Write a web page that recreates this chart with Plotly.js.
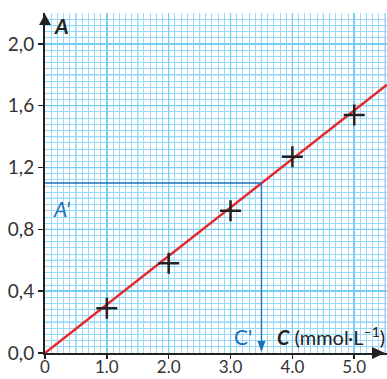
<!DOCTYPE html>
<html>
<head>
<meta charset="utf-8">
<script src="https://cdn.plot.ly/plotly-3.0.1.min.js"></script>
<style>html,body{margin:0;padding:0;background:#fff;}#chart{width:387px;height:379px;}</style>
</head>
<body>
<div id="chart"></div>
<script>
// Measured points (concentration C in mmol/L, absorbance A)
var concentrations = [1.0, 2.0, 3.0, 4.0, 5.0];
var absorbances = [0.29, 0.58, 0.92, 1.27, 1.54];
// Calibration line
var lineX = [0, 5.53];
var lineY = [0, 1.736];
// Reading of the unknown sample
var readA = 1.10;
var readC = 3.5;
// Tick labels
var xTickVals = [0, 1, 2, 3, 4, 5];
var xTickText = ['0', '1.0', '2.0', '3.0', '4.0', '5.0'];
var yTickVals = [0, 0.4, 0.8, 1.2, 1.6, 2.0];
var yTickText = ['0,0', '0,4', '0,8', '1,2', '1,6', '2,0'];

var XMAX = 5.53, YMAX = 2.2;
var blue = '#1d71b8', red = '#e8262a', ink = '#222222', txt = '#333333';
var gridMinor = '#97d9f8', gridMid = '#78cdf5';

var M = {l: 45, r: 0, t: 13, b: 26};
var W = 387 - M.l - M.r, H = 379 - M.t - M.b;
// pixel offsets relative to a data point -> paper coords
function px(xd, yd, dx, dy) {
  return ((xd / XMAX) + dx / W).toFixed(5) + ',' + ((yd / YMAX) - dy / H).toFixed(5);
}

var traces = [
  {x: lineX, y: lineY, mode: 'lines', line: {color: red, width: 2.5}, hoverinfo: 'skip'},
  {x: concentrations, y: absorbances, mode: 'markers',
   marker: {symbol: 'cross-thin', size: 15, line: {color: ink, width: 2.5}}, cliponaxis: false}
];

var shapes = [];
// medium grid lines (every 0.5 in x, every 0.2 in y)
for (var i = 1; i * 0.5 < XMAX; i++) {
  shapes.push({type: 'line', layer: 'below', x0: i * 0.5, x1: i * 0.5, y0: 0, y1: YMAX, line: {color: gridMid, width: 1.2}});
}
for (var j = 1; j * 0.2 < YMAX; j++) {
  shapes.push({type: 'line', layer: 'below', x0: 0, x1: XMAX, y0: j * 0.2, y1: j * 0.2, line: {color: gridMid, width: 1.2}});
}
// reading lines
shapes.push({type: 'line', x0: 0, x1: readC, y0: readA, y1: readA, line: {color: blue, width: 1.3}});
shapes.push({type: 'line', x0: readC, x1: readC, y0: readA, y1: 0.03, line: {color: blue, width: 1.3}});
// arrowheads (paper coords, offsets in pixels; dy positive = downward)
shapes.push({type: 'path', xref: 'paper', yref: 'paper',
  path: 'M' + px(readC, 0, 0, -1) + ' L' + px(readC, 0, -4, -12) + ' L' + px(readC, 0, 4, -12) + ' Z',
  fillcolor: blue, line: {width: 0}});
shapes.push({type: 'path', xref: 'paper', yref: 'paper',
  path: 'M' + px(0, YMAX, 0, 1) + ' L' + px(0, YMAX, -6, 12) + ' L' + px(0, YMAX, 6, 12) + ' Z',
  fillcolor: ink, line: {width: 0}});
shapes.push({type: 'path', xref: 'paper', yref: 'paper',
  path: 'M' + px(XMAX, 0, -2, 0) + ' L' + px(XMAX, 0, -15, -6) + ' L' + px(XMAX, 0, -15, 6) + ' Z',
  fillcolor: ink, line: {width: 0}});

var annotations = [
  {x: 0, y: 1, xref: 'x', yref: 'paper', xanchor: 'left', yanchor: 'middle', xshift: 7, yshift: -12, showarrow: false,
   text: '<b><i>A</i></b>', font: {family: 'Lato', size: 21, color: ink}},
  {x: 0, y: readA, xref: 'x', yref: 'y', xanchor: 'left', yanchor: 'middle', xshift: 6, yshift: -25, showarrow: false,
   text: "<i>A'</i>", font: {family: 'Lato', size: 21, color: blue}},
  {x: readC, y: 0, xref: 'x', yref: 'y', xanchor: 'right', yanchor: 'middle', xshift: -7, yshift: 17, showarrow: false,
   text: "C'", font: {family: 'Lato', size: 21, color: blue}},
  {x: 1, y: 0, xref: 'paper', yref: 'y', xanchor: 'right', yanchor: 'middle', xshift: 0, yshift: 17, showarrow: false,
   text: '<b><i>C</i></b> (mmol·L<sup>–1</sup>)', font: {family: 'Lato', size: 20, color: ink}}
];

var layout = {
  width: 387, height: 379,
  margin: {l: M.l, r: M.r, t: M.t, b: M.b, pad: 0},
  paper_bgcolor: '#ffffff', plot_bgcolor: '#ffffff',
  showlegend: false,
  xaxis: {
    range: [0, XMAX], fixedrange: true,
    tickmode: 'array', tickvals: xTickVals, ticktext: xTickText,
    ticks: 'outside', ticklen: 4, tickwidth: 1.5, tickcolor: ink, ticklabelstandoff: -6,
    tickfont: {family: 'Lato', size: 17, color: txt},
    showgrid: true, gridcolor: gridMid, gridwidth: 1.5,
    minor: {tickmode: 'linear', tick0: 0, dtick: 0.1, showgrid: true, gridcolor: gridMinor, gridwidth: 1, ticks: ''},
    showline: true, linecolor: ink, linewidth: 2, zeroline: false
  },
  yaxis: {
    range: [0, YMAX], fixedrange: true,
    tickmode: 'array', tickvals: yTickVals, ticktext: yTickText,
    ticks: 'outside', ticklen: 5, tickwidth: 1.5, tickcolor: ink,
    tickfont: {family: 'Lato', size: 19, color: txt},
    showgrid: true, gridcolor: gridMid, gridwidth: 1.5,
    minor: {tickmode: 'linear', tick0: 0, dtick: 0.04, showgrid: true, gridcolor: gridMinor, gridwidth: 1, ticks: ''},
    showline: true, linecolor: ink, linewidth: 2, zeroline: false
  },
  shapes: shapes,
  annotations: annotations
};

Plotly.newPlot('chart', traces, layout, {displayModeBar: false, staticPlot: true});
</script>
</body>
</html>
